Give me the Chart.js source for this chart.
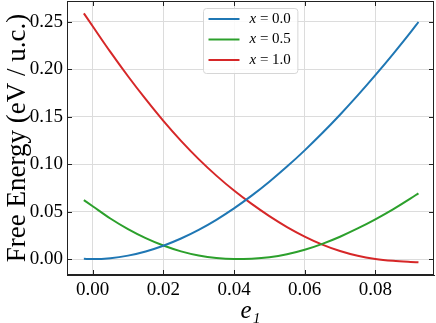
<!DOCTYPE html>
<html>
<head>
<meta charset="utf-8">
<script src="https://cdn.jsdelivr.net/npm/chart.js@4.4.1/dist/chart.umd.min.js"></script>
<style>
  html, body { margin: 0; padding: 0; background: #fff; }
  #wrap { width: 436px; height: 323px; }
</style>
</head>
<body>
<div id="wrap"><canvas id="myChart"></canvas></div>
<script>
// strain values e1 (x axis)
const strain = [-0.0025, 0.0, 0.005, 0.01, 0.015, 0.02, 0.025, 0.03, 0.035, 0.04, 0.045,
  0.05, 0.055, 0.06, 0.065, 0.07, 0.075, 0.08, 0.085, 0.09, 0.0922];

// free energy (eV / u.c.) for each composition
const energyX00 = [0.0002, 0.0, 0.0009, 0.0036, 0.0080, 0.0140, 0.0216, 0.0307, 0.0413, 0.0533, 0.0667,
  0.0814, 0.0973, 0.1144, 0.1326, 0.1519, 0.1722, 0.1935, 0.2157, 0.2388, 0.2495];
const energyX05 = [0.0620, 0.0556, 0.0427, 0.0315, 0.0220, 0.0142, 0.0081, 0.0037, 0.0010, 0.0000, 0.0004,
  0.0019, 0.0050, 0.0097, 0.0160, 0.0235, 0.0322, 0.0418, 0.0523, 0.0638, 0.0692];
const energyX10 = [0.2586, 0.2450, 0.2180, 0.1924, 0.1682, 0.1454, 0.1244, 0.1052, 0.0878, 0.0721, 0.0580,
  0.0452, 0.0337, 0.0237, 0.0152, 0.0084, 0.0034, 0.0001, -0.0019, -0.0031, -0.0035];

const seriesLabels = ['0.0', '0.5', '1.0'];
const seriesColors = ['#1f77b4', '#2ca02c', '#d62728'];

const xTicks = [0.0, 0.02, 0.04, 0.06, 0.08];
const yTicks = [0.0, 0.05, 0.10, 0.15, 0.20, 0.25];

const serif = "'Liberation Serif', 'DejaVu Serif', serif";

function toPoints(ys) {
  return strain.map((x, i) => ({ x: x, y: ys[i] }));
}

// frame on top/right plus inward ticks on all four sides
const frameTicks = {
  id: 'frameTicks',
  afterDraw(chart) {
    const ctx = chart.ctx;
    const a = chart.chartArea;
    const xs = chart.scales.x, ys = chart.scales.y;
    ctx.save();
    ctx.strokeStyle = '#222';
    ctx.lineWidth = 1;
    ctx.strokeRect(a.left + 0.5, a.top + 0.5, a.right - a.left - 1, a.bottom - a.top - 1);
    ctx.beginPath();
    xTicks.forEach(v => {
      const px = Math.round(xs.getPixelForValue(v)) + 0.5;
      ctx.moveTo(px, a.bottom); ctx.lineTo(px, a.bottom - 5);
      ctx.moveTo(px, a.top); ctx.lineTo(px, a.top + 5);
    });
    yTicks.forEach(v => {
      const py = Math.round(ys.getPixelForValue(v)) + 0.5;
      ctx.moveTo(a.left, py); ctx.lineTo(a.left + 5, py);
      ctx.moveTo(a.right, py); ctx.lineTo(a.right - 5, py);
    });
    ctx.stroke();
    ctx.restore();
  }
};

// matplotlib-like legend box in the upper centre
const boxLegend = {
  id: 'boxLegend',
  afterDraw(chart) {
    const ctx = chart.ctx;
    const a = chart.chartArea;
    const fs = 15;
    ctx.save();
    ctx.font = 'italic ' + fs + 'px ' + serif;
    const wx = ctx.measureText('x').width;
    ctx.font = fs + 'px ' + serif;
    const wr = ctx.measureText(' = 0.0').width;
    const lineLen = 31, gap = 10, pad = 5;
    const w = pad + lineLen + gap + wx + wr + pad + 2;
    const h = 65;
    const x0 = Math.round((a.left + a.right) / 2 - w / 2) + 0.5;
    const y0 = a.top + 7.5;
    ctx.beginPath();
    ctx.roundRect(x0, y0, w, h, 3);
    ctx.fillStyle = 'rgba(255,255,255,0.85)';
    ctx.fill();
    ctx.strokeStyle = '#d6d6d6';
    ctx.lineWidth = 1;
    ctx.stroke();
    chart.data.datasets.forEach((ds, i) => {
      const cy = y0 + 10.5 + i * 20.5;
      ctx.beginPath();
      ctx.strokeStyle = ds.borderColor;
      ctx.lineWidth = 2;
      ctx.moveTo(x0 + pad, cy);
      ctx.lineTo(x0 + pad + lineLen, cy);
      ctx.stroke();
      ctx.fillStyle = '#000';
      ctx.textBaseline = 'middle';
      ctx.textAlign = 'left';
      const tx = x0 + pad + lineLen + gap;
      ctx.font = 'italic ' + fs + 'px ' + serif;
      ctx.fillText('x', tx, cy);
      ctx.font = fs + 'px ' + serif;
      ctx.fillText(' = ' + seriesLabels[i], tx + wx, cy);
    });
    ctx.restore();
  }
};

const chartConfig = {
  type: 'line',
  data: {
    datasets: [energyX00, energyX05, energyX10].map((ys, i) => ({
      label: 'x = ' + seriesLabels[i],
      data: toPoints(ys),
      borderColor: seriesColors[i],
      borderWidth: 2,
      pointRadius: 0,
      fill: false,
      cubicInterpolationMode: 'monotone'
    }))
  },
  options: {
    responsive: false,
    animation: false,
    layout: { padding: { top: 1, right: 2, left: 0, bottom: 0 } },
    scales: {
      x: {
        type: 'linear',
        min: -0.00727,
        max: 0.0966,
        afterBuildTicks: s => { s.ticks = xTicks.map(v => ({ value: v })); },
        afterFit: s => { s.height = 48; s.paddingLeft = 0; s.paddingRight = 0; },
        ticks: {
          callback: v => v.toFixed(2),
          font: { family: serif, size: 19 },
          color: '#000',
          padding: 4,
          maxRotation: 0
        },
        grid: { color: '#dcdcdc', lineWidth: 1, drawTicks: false },
        border: { display: true, color: '#222', width: 1 },
        title: {
          display: true,
          text: 'e\u2081',
          font: { family: serif, size: 25, style: 'italic' },
          color: '#000',
          padding: { top: 0, bottom: -3 }
        }
      },
      y: {
        type: 'linear',
        min: -0.0168,
        max: 0.2716,
        afterBuildTicks: s => { s.ticks = yTicks.map(v => ({ value: v })); },
        afterFit: s => { s.width = 67; s.paddingTop = 0; s.paddingBottom = 0; },
        ticks: {
          callback: v => v.toFixed(2),
          font: { family: serif, size: 19 },
          color: '#000',
          padding: 4
        },
        grid: { color: '#dcdcdc', lineWidth: 1, drawTicks: false },
        border: { display: true, color: '#222', width: 1 },
        title: {
          display: true,
          text: 'Free Energy (eV / u.c.)',
          font: { family: serif, size: 27 },
          color: '#000',
          padding: { top: 2, bottom: 0 }
        }
      }
    },
    plugins: {
      legend: { display: false },
      tooltip: { enabled: false }
    }
  },
  plugins: [frameTicks, boxLegend]
};

const canvas = document.getElementById('myChart');
canvas.width = 436;
canvas.height = 323;
const myChart = new Chart(canvas, chartConfig);
</script>
</body>
</html>
